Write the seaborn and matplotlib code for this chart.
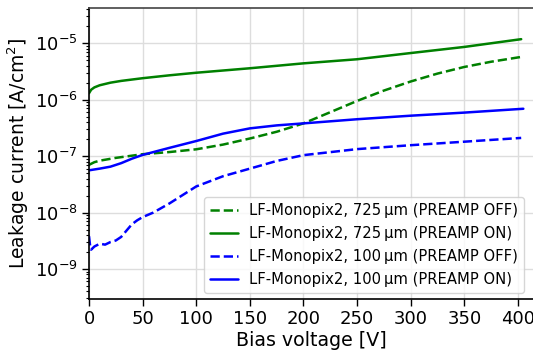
import numpy as np
import pandas as pd
import matplotlib
matplotlib.use("Agg")
import matplotlib.pyplot as plt
import seaborn as sns

# --- data ---
v_725_off = [0, 5, 10, 25, 50, 75, 100, 125, 150, 175, 200, 225, 250, 275, 300, 325, 350, 375, 405]
i_725_off = [7.0e-8, 7.8e-8, 8.3e-8, 9.3e-8, 1.08e-7, 1.18e-7, 1.32e-7, 1.6e-7, 2.05e-7, 2.7e-7,
             3.8e-7, 6.0e-7, 9.5e-7, 1.45e-6, 2.1e-6, 2.9e-6, 3.8e-6, 4.7e-6, 5.8e-6]

v_725_on = [0, 2, 5, 10, 20, 30, 50, 75, 100, 150, 200, 250, 300, 350, 403]
i_725_on = [1.3e-6, 1.5e-6, 1.65e-6, 1.8e-6, 2.0e-6, 2.15e-6, 2.4e-6, 2.7e-6, 3.0e-6, 3.6e-6,
            4.4e-6, 5.2e-6, 6.7e-6, 8.6e-6, 1.18e-5]

v_100_off = [0, 1, 2, 5, 10, 15, 20, 25, 30, 35, 40, 45, 50, 60, 75, 100, 125, 150, 175, 200,
             250, 300, 350, 403]
i_100_off = [3.8e-9, 2.6e-9, 2.2e-9, 2.5e-9, 2.8e-9, 2.7e-9, 3.0e-9, 3.2e-9, 3.7e-9, 4.8e-9,
             6.2e-9, 7.3e-9, 8.3e-9, 1.0e-8, 1.45e-8, 2.9e-8, 4.4e-8, 6.0e-8, 8.2e-8, 1.04e-7,
             1.33e-7, 1.56e-7, 1.8e-7, 2.1e-7]

v_100_on = [0, 10, 20, 30, 40, 50, 75, 100, 125, 150, 175, 200, 250, 300, 350, 405]
i_100_on = [5.6e-8, 6.0e-8, 6.5e-8, 7.5e-8, 9.0e-8, 1.05e-7, 1.4e-7, 1.85e-7, 2.5e-7, 3.1e-7,
            3.5e-7, 3.8e-7, 4.5e-7, 5.2e-7, 5.9e-7, 6.9e-7]

labels = ["LF-Monopix2, 725\u2009µm (PREAMP OFF)",
          "LF-Monopix2, 725\u2009µm (PREAMP ON)",
          "LF-Monopix2, 100\u2009µm (PREAMP OFF)",
          "LF-Monopix2, 100\u2009µm (PREAMP ON)"]

sns.set_style("whitegrid", {"axes.edgecolor": "black", "grid.color": "#dddddd",
                            "xtick.bottom": True, "ytick.left": True,
                            "text.color": "black", "axes.labelcolor": "black",
                            "xtick.color": "black", "ytick.color": "black"})
plt.rcParams['font.family'] = ['DejaVu Sans']

fig = plt.figure(figsize=(5.33, 3.5), dpi=100)
ax = fig.add_axes([0.167, 0.146, 0.835, 0.831])

series = [
    (v_725_off, i_725_off, labels[0], "green", "--"),
    (v_725_on, i_725_on, labels[1], "green", "-"),
    (v_100_off, i_100_off, labels[2], "blue", "--"),
    (v_100_on, i_100_on, labels[3], "blue", "-"),
]
for x, y, lab, col, ls in series:
    sns.lineplot(x=x, y=y, ax=ax, color=col, linestyle=ls, linewidth=1.8, label=lab)

ax.set_yscale("log")
ax.set_xlim(0, 415)
ax.set_ylim(2.95e-10, 4.2e-5)
ax.set_xticks([0, 50, 100, 150, 200, 250, 300, 350, 400])
ax.set_xlabel("Bias voltage [V]", fontsize=13.7, labelpad=2)
ax.set_ylabel("Leakage current [A/cm$^2$]", fontsize=13.5, labelpad=3)
ax.tick_params(axis="both", which="major", labelsize=13, length=5, width=1, color="black", pad=3)
ax.tick_params(axis="y", which="minor", length=2.5, width=0.8, left=True, color="black")
ax.grid(True, which="major", color="#dddddd", linewidth=1)
ax.grid(False, which="minor")
ax.spines["right"].set_visible(False)
for s in ["left", "bottom", "top"]:
    ax.spines[s].set_linewidth(1.2)
ax.spines["top"].set_color("#444444")

leg = ax.legend(loc="lower right", fontsize=10.6, frameon=True, handlelength=1.9,
                handletextpad=0.75, borderaxespad=0.4, labelspacing=0.55,
                bbox_to_anchor=(0.99, 0.0))
leg.get_frame().set_edgecolor("#cccccc")

fig.savefig("out.png", dpi=100)
